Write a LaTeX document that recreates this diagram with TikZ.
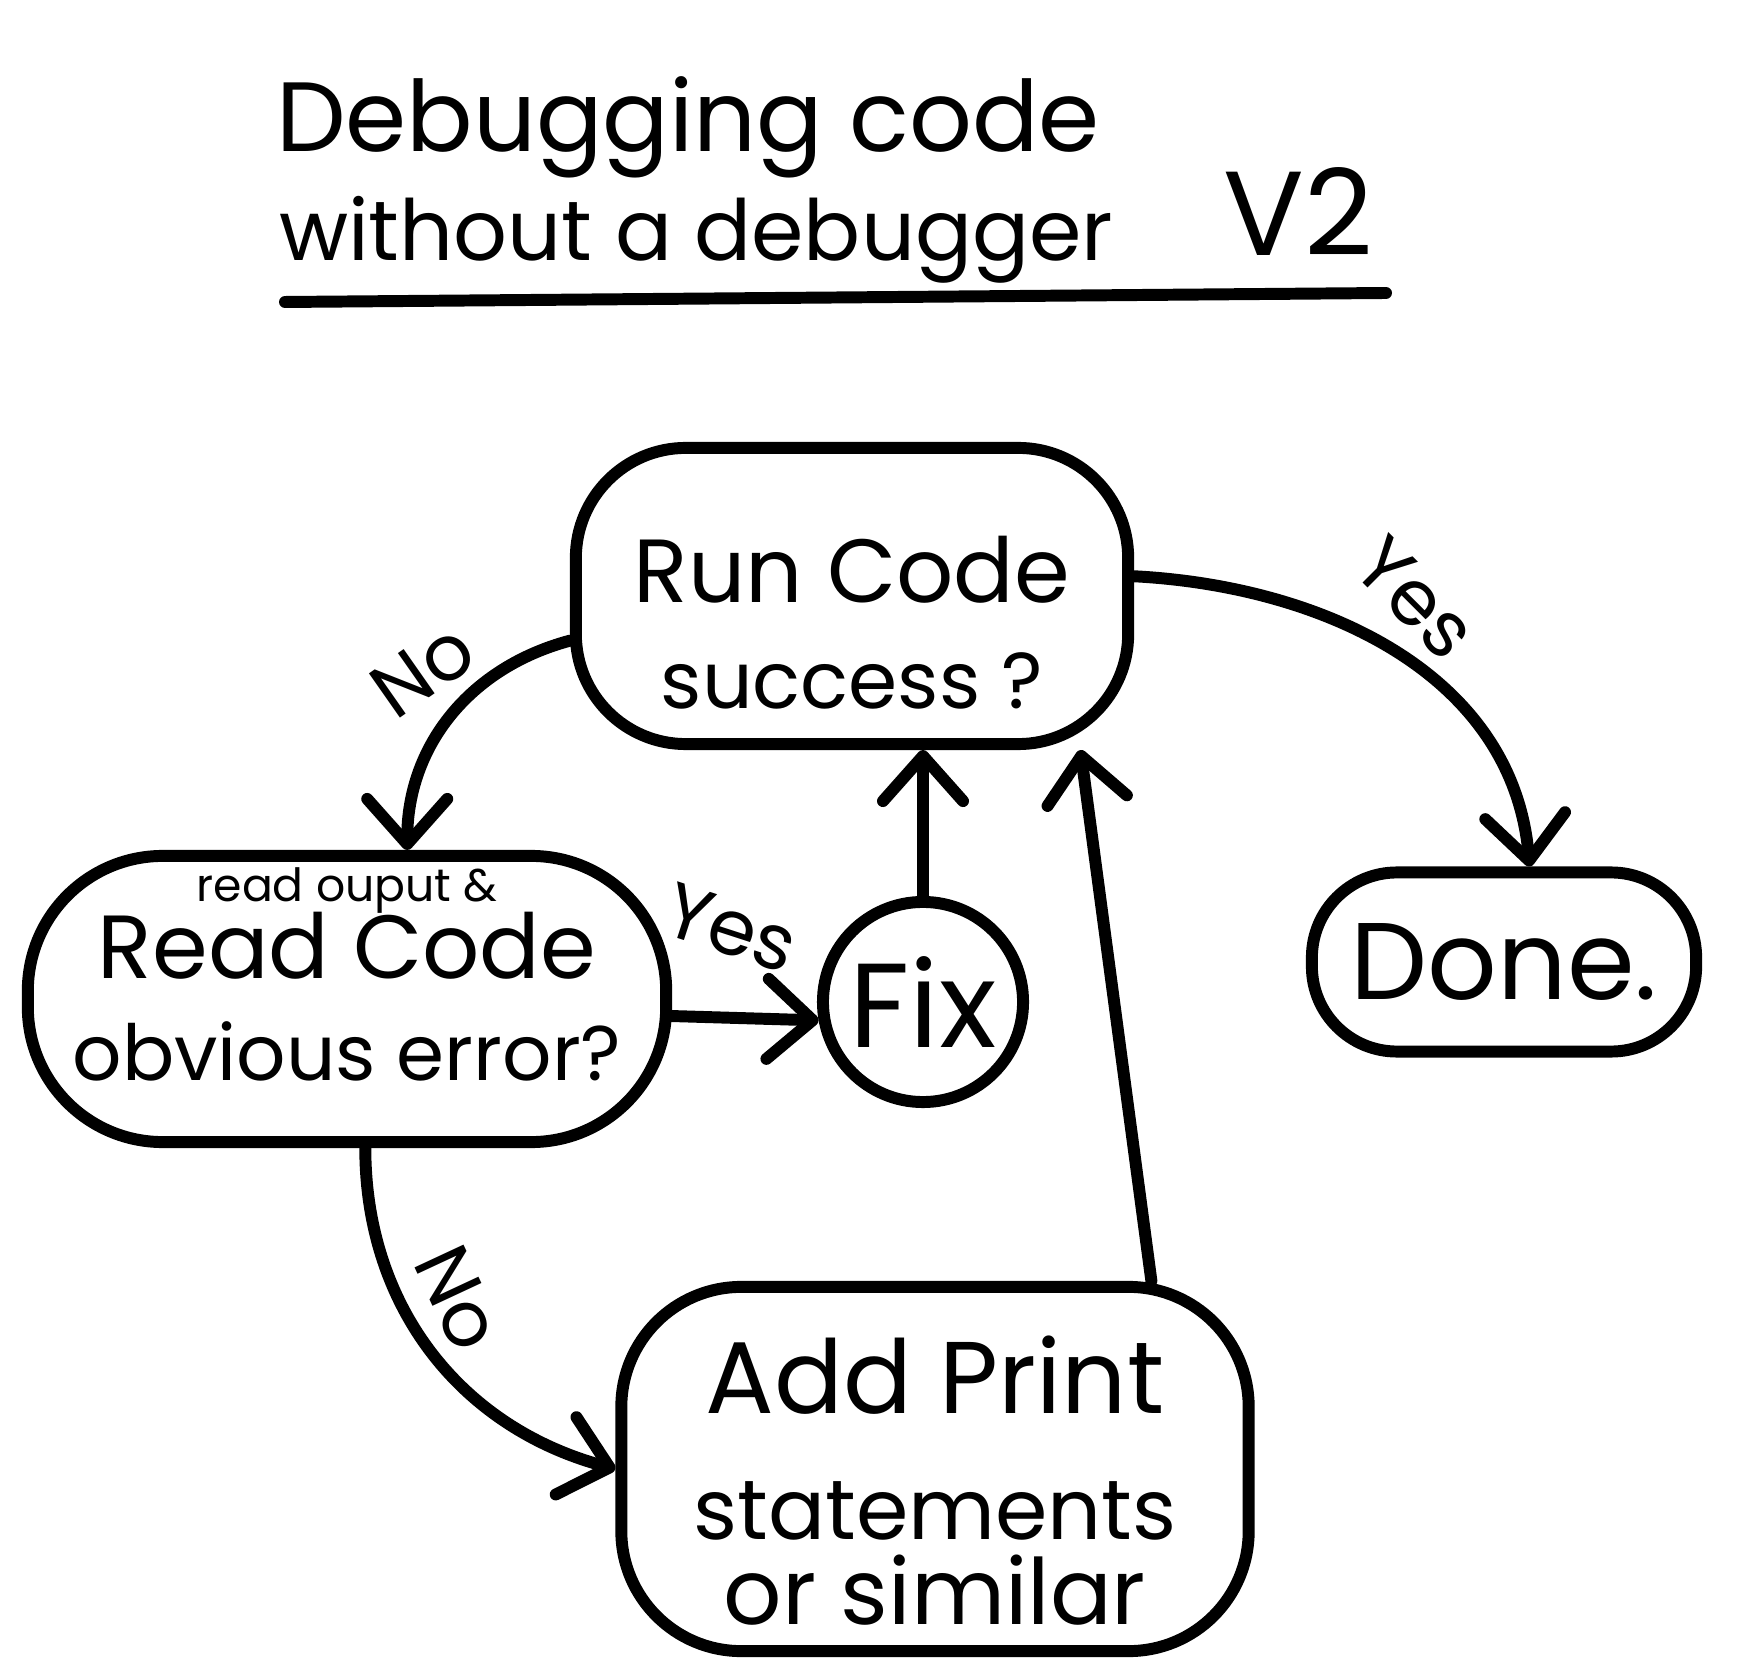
\documentclass[tikz,border=0pt]{standalone}
\usepackage{fontspec}
\setmainfont{Poppins}
\usetikzlibrary{arrows.meta,positioning,calc}

\tikzset{
  pen/.style={line width=3.4pt, line cap=round, line join=round},
  box/.style={pen, draw, align=center, inner sep=0pt, rounded corners=1.1cm},
  arr/.style={pen, -{Straight Barb[length=4.5mm,width=8mm,round]}},
  lbl/.style={font=\fontsize{22}{24}\selectfont, inner sep=0pt},
}

\begin{document}
\begin{tikzpicture}[x=0.01cm,y=0.01cm]
\useasboundingbox (0,0) rectangle (1755,-1680);

% title
\node (title1) at (688,-127) {\fontsize{28}{30}\selectfont Debugging code};
\node (title2) at (696,-240) {\fontsize{24}{26}\selectfont without a debugger};
\node (version) at (1298,-212) {\fontsize{34}{36}\selectfont V2};
\draw[pen] (285,-302) -- (1386,-293);

% boxes
\node[box, minimum width=5.52cm, minimum height=2.96cm, font=\fontsize{25.5}{30}\selectfont]
  (run) at (852,-596) {\rule{0pt}{1.2cm}Run Code\\{\fontsize{22.5}{28}\selectfont success ?}};
\node[box, minimum width=6.38cm, minimum height=2.86cm, rounded corners=1.35cm,
  font=\fontsize{25.5}{28}\selectfont]
  (read) at (347,-999) {{\fontsize{13}{14}\selectfont read ouput \&}\\[-6pt]Read Code\\[1pt]{\fontsize{22}{26}\selectfont obvious error?}\rule[-0.5cm]{0pt}{0pt}};
\node[pen, draw, circle, minimum size=2.0cm, inner sep=0pt, font=\fontsize{34}{36}\selectfont]
  (fix) at (923,-1002) {Fix};
\node[box, minimum width=3.84cm, minimum height=1.79cm, rounded corners=0.85cm,
  font=\fontsize{31}{33}\selectfont]
  (done) at (1504,-962) {Done.};
\node[box, minimum width=6.27cm, minimum height=3.64cm, rounded corners=1.2cm,
  font=\fontsize{29}{34}\selectfont]
  (print) at (935,-1469) {\rule{0pt}{1.0cm}Add Print\\[2pt]{\fontsize{24}{28}\selectfont statements}\\[-10pt]{\fontsize{26}{30}\selectfont or similar}};

% connectors
\draw[arr] (run.189) to[out=195,in=90] (read.68);
\draw[arr] (run.4) to[out=-3,in=95] (done.75);
\draw[arr] (read.-3) -- (fix.190);
\draw[arr] (fix.north) -- (fix.north |- run.south);
\draw[arr] (read.-83) to[out=-90,in=165] (print.west);
\draw[arr] (print.41) -- (run.-34.5);

% labels
\node[lbl, rotate=35] (no1) at (423,-670) {No};
\node[lbl, rotate=-45] (yes1) at (1416,-598) {Yes};
\node[lbl, rotate=-18] (yes2) at (731,-928) {Yes};
\node[lbl, rotate=-65] (no2) at (459,-1298) {No};
\end{tikzpicture}
\end{document}
